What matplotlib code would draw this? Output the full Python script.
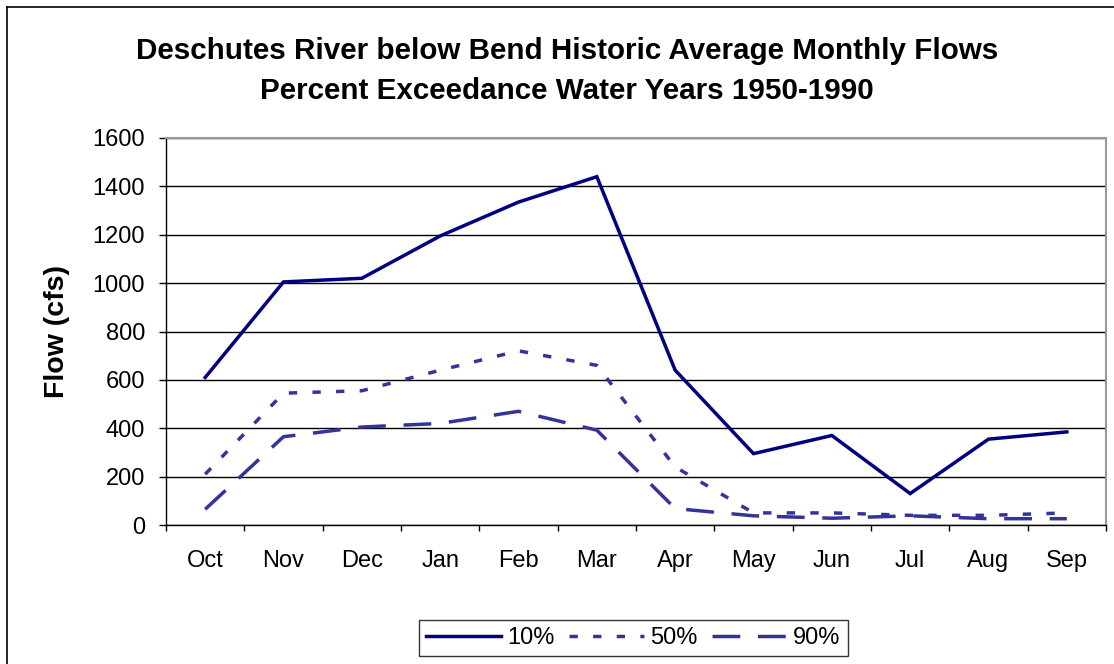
import matplotlib
matplotlib.use("Agg")
import matplotlib.pyplot as plt
from matplotlib.lines import Line2D

plt.rcParams['font.family'] = ['Liberation Sans', 'DejaVu Sans']

months = ['Oct', 'Nov', 'Dec', 'Jan', 'Feb', 'Mar', 'Apr', 'May', 'Jun', 'Jul', 'Aug', 'Sep']
flow_10 = [610, 1005, 1020, 1195, 1335, 1440, 640, 295, 370, 130, 355, 385]
flow_50 = [210, 545, 555, 640, 720, 660, 240, 50, 50, 40, 40, 50]
flow_90 = [65, 365, 405, 420, 470, 392, 68, 38, 28, 38, 26, 26]
yticks = [0, 200, 400, 600, 800, 1000, 1200, 1400, 1600]

W, H = 1114, 664
fig = plt.figure(figsize=(W / 100, H / 100), dpi=100)

# outer chart border (cropped on right and bottom)
fig.add_artist(Line2D([7 / W, 7 / W], [0, 1 - 7 / H], color='black', lw=1.2, transform=fig.transFigure))
fig.add_artist(Line2D([7 / W, 1], [1 - 7 / H, 1 - 7 / H], color='black', lw=1.2, transform=fig.transFigure))

ax = fig.add_axes([166 / W, 1 - 525 / H, (1106 - 166) / W, (525 - 138) / H])

x = list(range(len(months)))
ax.plot(x, flow_10, color='#000080', lw=2.5, solid_joinstyle='miter')
ax.plot(x, flow_50, color='#333399', lw=2.5, dashes=(2.4, 4.4))
ax.plot(x, flow_90, color='#333399', lw=2.5, dashes=(8, 5.1))

ax.set_xlim(-0.5, 11.5)
ax.set_ylim(0, 1600)
ax.set_yticks(yticks)
ax.set_yticklabels([str(v) for v in yticks], fontsize=17)
ax.set_xticks(x)
ax.set_xticklabels(months, fontsize=17)
ax.tick_params(axis='x', which='major', length=0, pad=18)
ax.set_xticks([i - 0.5 for i in range(len(months) + 1)], minor=True)
ax.tick_params(axis='x', which='minor', length=4, direction='out', width=1)
ax.tick_params(axis='y', length=5, direction='out', width=1, pad=10)

ax.grid(axis='y', color='black', lw=1)
ax.set_axisbelow(True)
for s in ['top', 'right']:
    ax.spines[s].set_color('#999999')
    ax.spines[s].set_linewidth(1.5)
for s in ['left', 'bottom']:
    ax.spines[s].set_color('black')
    ax.spines[s].set_linewidth(1)

ax.set_ylabel('Flow (cfs)', fontsize=20.5, fontweight='bold', labelpad=16)

fig.text(567 / W, 1 - 51 / H, 'Deschutes River below Bend Historic Average Monthly Flows',
         ha='center', va='center', fontsize=21.3, fontweight='bold')
fig.text(567 / W, 1 - 91 / H, 'Percent Exceedance Water Years 1950-1990',
         ha='center', va='center', fontsize=21.3, fontweight='bold')

handles = [
    Line2D([], [], color='#000080', lw=2.5),
    Line2D([], [], color='#333399', lw=2.5, dashes=(2.4, 4.4)),
    Line2D([], [], color='#333399', lw=2.5, dashes=(8, 5.1)),
]
leg = fig.legend(handles, ['10%', '50%', '90%'], loc='center', bbox_to_anchor=(633 / W, 1 - 638 / H),
                 ncol=3, fontsize=17, frameon=True, fancybox=False, edgecolor='black',
                 handlelength=3.2, handletextpad=0.25, columnspacing=0.6, borderpad=0.3)
leg.get_frame().set_linewidth(1)

fig.savefig('out.png', dpi=100)
